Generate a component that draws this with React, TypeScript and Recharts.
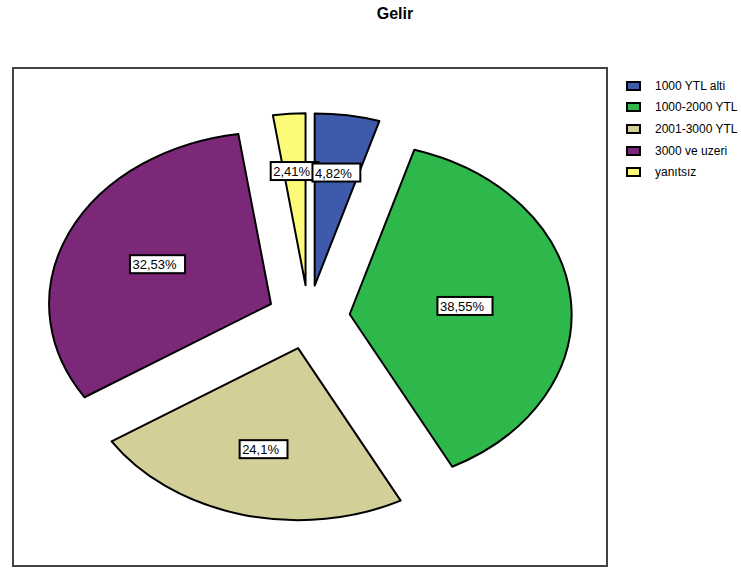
import React from 'react';
import { PieChart, Pie, Cell, Legend } from 'recharts';

const categories = ['1000 YTL alti', '1000-2000 YTL', '2001-3000 YTL', '3000 ve uzeri', 'yanıtsız'];
const shares = [4.82, 38.55, 24.1, 32.53, 2.41];
const palette = ['#3e5bab', '#2eb84b', '#d3cf98', '#7c2879', '#fbfb78'];

const data = categories.map((name, i) => ({ name, value: shares[i] }));
// same slices walked counter-clockwise, so the first slice's label ends up on top
const labelData = [...data].reverse();

const FONT = '"Liberation Sans", Arial, sans-serif';
const RADIAN = Math.PI / 180;
const STRETCH = 1.29; // horizontal squash of the pie into an ellipse
const EXPLODE = 32; // every slice pulled out from the centre
const CX = 308.6;
const CY = 317.2;
const RADIUS = 172;

const formatShare = (v: number) => `${String(v).replace('.', ',')}%`;

// rough Arial widths at 13px
const textWidth = (s: string) =>
  s.split('').reduce((w, ch) => w + (ch === ',' ? 3.61 : ch === '%' ? 11.56 : 7.23), 0);

const sliceOrigin = (cx: number, cy: number, midAngle: number) => [
  cx + STRETCH * EXPLODE * Math.cos(midAngle * RADIAN),
  cy - EXPLODE * Math.sin(midAngle * RADIAN),
];

const renderSlice = (props: any) => {
  const { cx, cy, startAngle, endAngle, midAngle, outerRadius, index } = props;
  const R = outerRadius;
  const [ox, oy] = sliceOrigin(cx, cy, midAngle);
  const pt = (a: number) => [ox + STRETCH * R * Math.cos(a * RADIAN), oy - R * Math.sin(a * RADIAN)];
  const [x1, y1] = pt(startAngle);
  const [x2, y2] = pt(endAngle);
  const large = Math.abs(startAngle - endAngle) > 180 ? 1 : 0;
  const d = `M${ox},${oy} L${x1},${y1} A${STRETCH * R},${R} 0 ${large} 1 ${x2},${y2} Z`;
  return <path d={d} fill={palette[index]} stroke="#000" strokeWidth={2} strokeLinejoin="round" />;
};

const renderValueBox = (props: any) => {
  const { cx, cy, startAngle, endAngle, midAngle, outerRadius, value } = props;
  const R = outerRadius;
  const [ox, oy] = sliceOrigin(cx, cy, midAngle);
  // label box sits on the slice centroid
  const half = (Math.abs(startAngle - endAngle) / 2) * RADIAN;
  const dist = (2 * R * Math.sin(half)) / (3 * half);
  const lx = ox + STRETCH * dist * Math.cos(midAngle * RADIAN);
  const ly = oy - dist * Math.sin(midAngle * RADIAN);
  const text = formatShare(value);
  const bw = textWidth(text) + 11;
  const bh = 18;
  const bx = lx - bw / 2;
  return (
    <g>
      <rect x={bx} y={ly - bh / 2} width={bw} height={bh} fill="#fff" stroke="#000" strokeWidth={2} />
      <text x={bx + 2.5} y={ly + 0.5} dominantBaseline="central" fontSize={13} fontFamily={FONT} fill="#000">
        {text}
      </text>
    </g>
  );
};

const LegendList = (props: any) => {
  const { payload = [] } = props;
  // only the slice pie feeds the legend; the label pie is drawn with fill "none"
  const items = payload.filter((entry: any) => entry.type !== 'none' && entry.color !== 'none');
  return (
    <div style={{ fontFamily: FONT, fontSize: 12, color: '#000' }}>
      {items.map((entry: any, i: number) => (
        <div key={i} style={{ display: 'flex', alignItems: 'center', height: 21.6 }}>
          <span
            style={{
              display: 'inline-block',
              width: 11,
              height: 6,
              border: '2px solid #000',
              background: palette[categories.indexOf(entry.value)] ?? entry.color,
            }}
          />
          <span style={{ marginLeft: 14, whiteSpace: 'nowrap' }}>{entry.value}</span>
        </div>
      ))}
    </div>
  );
};

export default function App() {
  return (
    <div style={{ position: 'absolute', left: 0, top: 0, width: 741, height: 568, background: '#fff' }}>
      <div
        style={{
          position: 'absolute',
          left: 345,
          top: 5,
          width: 100,
          textAlign: 'center',
          fontFamily: FONT,
          fontWeight: 'bold',
          fontSize: 16,
          color: '#000',
        }}
      >
        Gelir
      </div>
      <div
        style={{
          position: 'absolute',
          left: 12,
          top: 67,
          width: 592,
          height: 496,
          border: '2px solid #444',
        }}
      />
      <div style={{ position: 'absolute', left: 0, top: 0 }}>
        <PieChart width={741} height={568} margin={{ top: 0, right: 0, bottom: 0, left: 0 }}>
          <Pie
            data={data}
            dataKey="value"
            nameKey="name"
            cx={CX}
            cy={CY}
            outerRadius={RADIUS}
            startAngle={90}
            endAngle={-270}
            labelLine={false}
            label={renderSlice}
            isAnimationActive={false}
          >
            {data.map((_, i) => (
              <Cell key={i} fill={palette[i]} fillOpacity={0} stroke="none" />
            ))}
          </Pie>
          <Pie
            data={labelData}
            dataKey="value"
            nameKey="name"
            cx={CX}
            cy={CY}
            outerRadius={RADIUS}
            startAngle={90}
            endAngle={450}
            labelLine={false}
            label={renderValueBox}
            legendType="none"
            fill="none"
            stroke="none"
            isAnimationActive={false}
          />
          <Legend
            layout="vertical"
            align="right"
            verticalAlign="top"
            content={<LegendList />}
            wrapperStyle={{ left: 626, right: 'auto', top: 75, width: 115 }}
          />
        </PieChart>
      </div>
    </div>
  );
}
